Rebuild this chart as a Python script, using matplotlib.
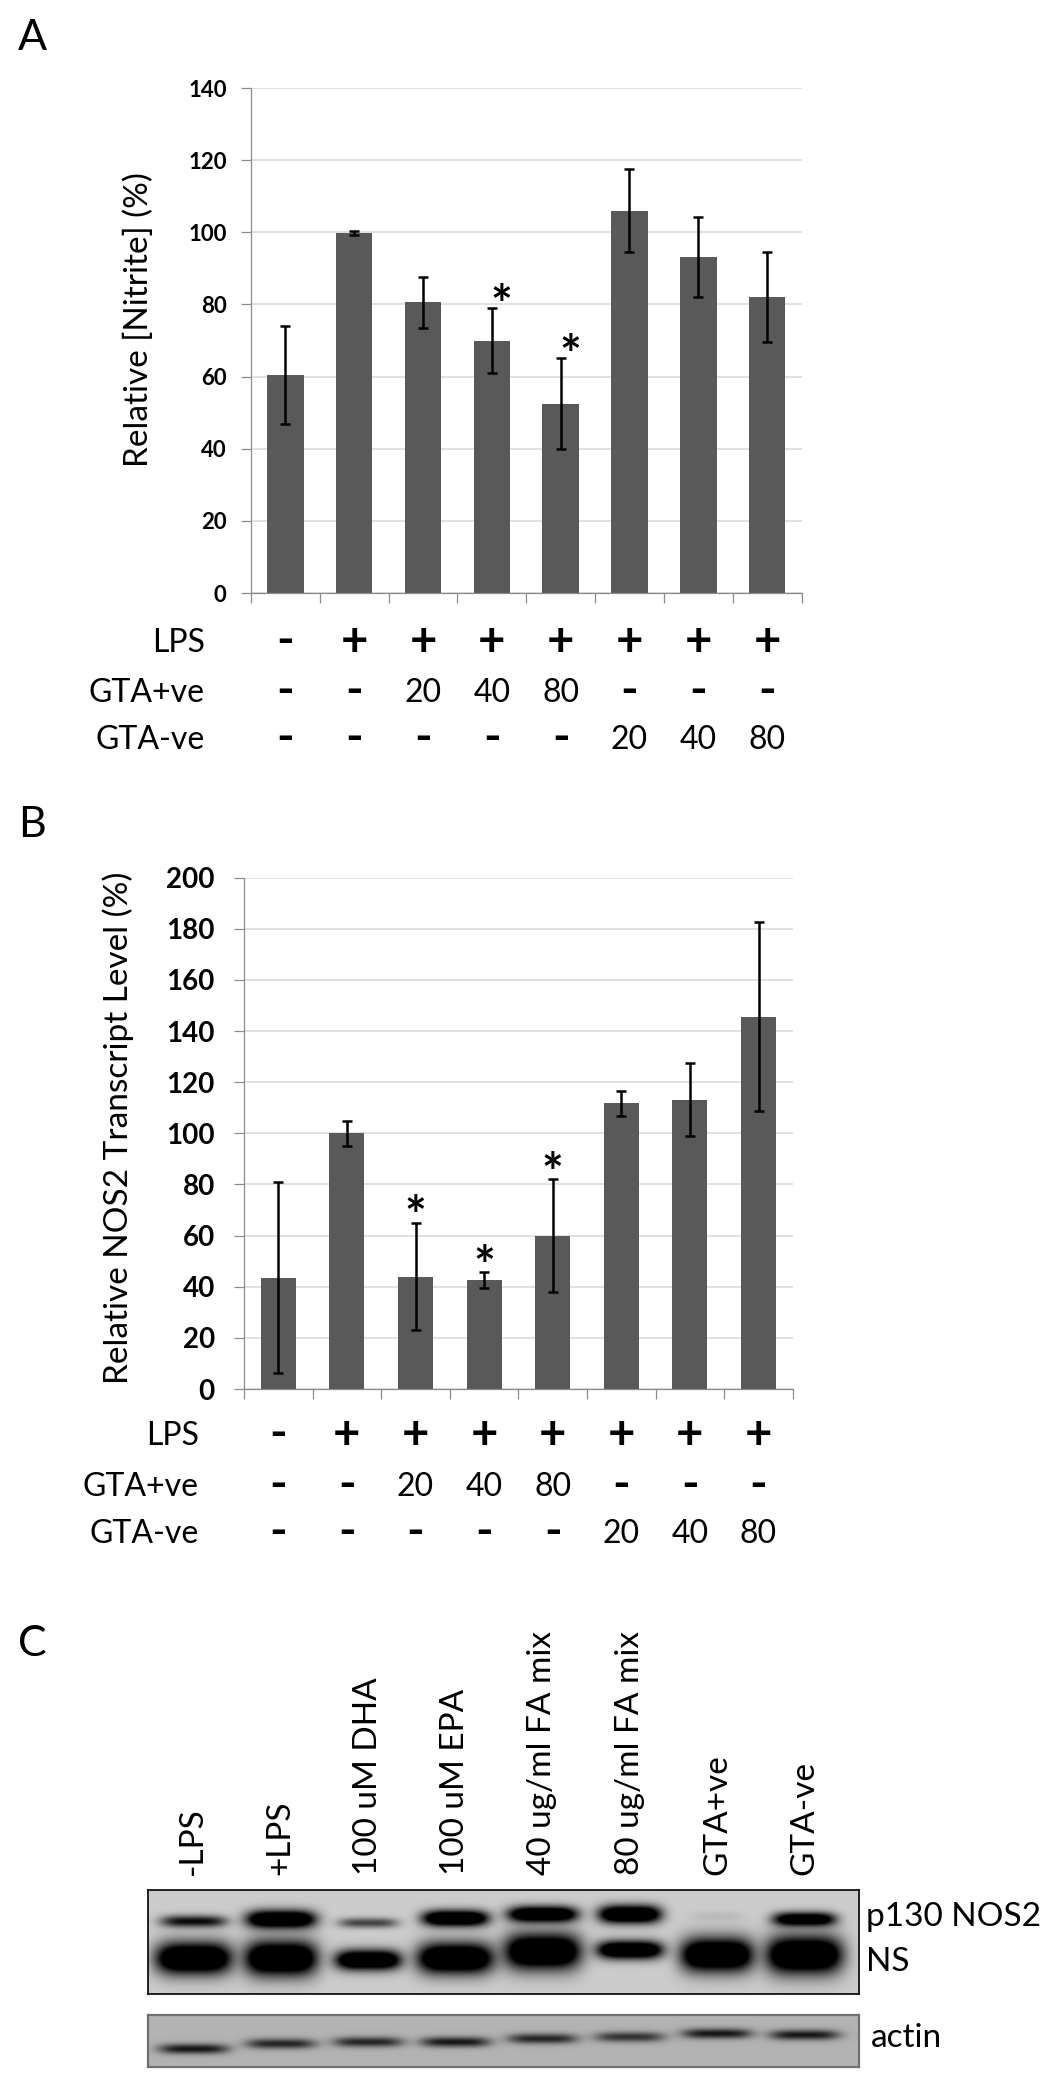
import numpy as np
import matplotlib
matplotlib.use("Agg")
import matplotlib.pyplot as plt
import matplotlib.transforms as mtransforms
from matplotlib.textpath import TextPath
from matplotlib.font_manager import FontProperties

plt.rcParams['font.family'] = ['Lato', 'DejaVu Sans']

FIG_W, FIG_H = 1045, 2086

# --- panel A: relative nitrite (%) ---
nitrite = [60.4, 99.8, 80.6, 70.0, 52.5, 106.0, 93.1, 82.0]
nitrite_err = [13.6, 0.5, 7.0, 9.1, 12.7, 11.6, 11.0, 12.4]
nitrite_sig = [False, False, False, True, True, False, False, False]

# --- panel B: relative NOS2 transcript (%) ---
nos2 = [43.6, 100.0, 44.0, 42.6, 60.0, 111.7, 113.2, 145.6]
nos2_err = [37.5, 4.9, 21.1, 3.1, 22.1, 4.8, 14.4, 36.9]
nos2_sig = [False, False, True, True, True, False, False, False]

# treatment table under the bars
row_names = ['LPS', 'GTA+ve', 'GTA-ve']
lps_row = ['-', '+', '+', '+', '+', '+', '+', '+']
gta_pos_row = ['-', '-', '20', '40', '80', '-', '-', '-']
gta_neg_row = ['-', '-', '-', '-', '-', '20', '40', '80']

# --- panel C: western blot ---
lanes = ['-LPS', '+LPS', '100 uM DHA', '100 uM EPA',
         '40 ug/ml FA mix', '80 ug/ml FA mix', 'GTA+ve', 'GTA-ve']
p130_level = [0.60, 1.00, 0.42, 1.00, 1.00, 1.00, 0.05, 0.90]
ns_level = [1.00, 1.00, 1.00, 1.00, 1.00, 1.00, 1.00, 1.00]
actin_level = [0.55, 0.50, 0.50, 0.55, 0.50, 0.45, 0.55, 0.55]

# band shapes (px from blot top, half heights px, half widths in lanes)
p130_y = [32, 30, 33.5, 29, 25, 25, 27, 30]
p130_hh = [6, 9, 5, 8, 8, 9, 5, 7]
p130_hw = [0.38, 0.40, 0.34, 0.38, 0.40, 0.36, 0.30, 0.36]
ns_y = [68.8, 68.8, 70.5, 68.8, 62, 60.4, 65.4, 65.4]
ns_hh = [16, 17.5, 10, 15.5, 18, 9, 17, 19]
ns_hw = [0.44, 0.42, 0.38, 0.44, 0.44, 0.38, 0.42, 0.44]
actin_y = [35.3, 30.2, 28.5, 28.5, 25.2, 23.5, 20.2, 21.5]


def fx(p):
    return p / FIG_W


def fy(p):
    return 1 - p / FIG_H


fig = plt.figure(figsize=(FIG_W / 100, FIG_H / 100), dpi=100)


def ink_text(ax, trans, x, y, s, lift_px, fontsize=None, height_px=None,
             dx_px=0, weight='bold'):
    """glyph whose ink centre sits lift_px above y (size given directly or by ink height)"""
    fp = FontProperties(family=['Lato'], weight=weight, size=10)
    ext = TextPath((0, 0), s, prop=fp).get_extents()
    size = fontsize if fontsize else height_px * 0.72 * 10 / ext.height
    cy = (ext.y0 + ext.y1) / 2 * size / 10
    tr = trans + mtransforms.ScaledTranslation(
        dx_px / 100, (lift_px * 0.72 - cy) / 72, fig.dpi_scale_trans)
    ax.text(x, y, s, transform=tr, ha='center', va='baseline',
            fontsize=size, fontweight=weight)


def bar_panel(rect, vals, errs, sig, ymax, step, width, tick_size, tick_pad,
              star_dx, star_lift):
    ax = fig.add_axes(rect)
    x = np.arange(len(vals)) + 0.5
    ax.bar(x, vals, width=width, color='#595959', zorder=2)
    ax.errorbar(x, vals, yerr=errs, fmt='none', ecolor='black',
                elinewidth=1.8, capsize=3.6, capthick=1.8, zorder=3)
    ax.set_xlim(0, len(vals))
    ax.set_ylim(0, ymax)
    ax.set_yticks(np.arange(0, ymax + 1, step))
    ax.set_xticks(np.arange(0, len(vals) + 1))
    ax.set_xticklabels([])
    ax.yaxis.grid(True, color='#d9d9d9', lw=1.1)
    ax.set_axisbelow(True)
    for s in ['top', 'right']:
        ax.spines[s].set_visible(False)
    for s in ['left', 'bottom']:
        ax.spines[s].set_color('#8c8c8c')
        ax.spines[s].set_linewidth(0.9)
    ax.tick_params(axis='both', direction='out', color='#8c8c8c',
                   length=7, width=0.9)
    ax.tick_params(axis='y', labelsize=tick_size, pad=tick_pad)
    for lab in ax.get_yticklabels():
        lab.set_fontweight('bold')
    for xi, v, e, s in zip(x, vals, errs, sig):
        if s:
            ink_text(ax, ax.transData, xi, v + e, '*', star_lift,
                     height_px=17.5, dx_px=star_dx, weight='bold')
    return ax


def treatment_rows(ax, label_right, baselines):
    trans = mtransforms.blended_transform_factory(ax.transData, fig.transFigure)
    x = np.arange(len(lps_row)) + 0.5
    for name, row, base in zip(row_names, [lps_row, gta_pos_row, gta_neg_row],
                               baselines):
        fig.text(fx(label_right), fy(base), name, ha='right', va='baseline',
                 fontsize=23)
        for xi, t in zip(x, row):
            if t == '+':
                ink_text(ax, trans, xi, fy(base), t, 12, fontsize=34)
            elif t == '-':
                ink_text(ax, trans, xi, fy(base), t, 11.5, fontsize=34)
            else:
                ax.text(xi, fy(base), t, transform=trans, ha='center',
                        va='baseline', fontsize=23)


# panel A
ax_a = bar_panel([fx(251), fy(593), fx(801.5 - 251), (593 - 88) / FIG_H],
                 nitrite, nitrite_err, nitrite_sig, 140, 20, 0.53, 16, 10.5,
                 9.5, 15)
treatment_rows(ax_a, 205, [652.4, 701.8, 749.2])
fig.text(fx(139), fy(320), 'Relative [Nitrite] (%)', rotation=90,
         ha='center', va='center', fontsize=24)
fig.text(fx(18), fy(50), 'A', fontsize=31, va='baseline')

# panel B
ax_b = bar_panel([fx(244), fy(1389), fx(792.8 - 244), (1389 - 877.7) / FIG_H],
                 nos2, nos2_err, nos2_sig, 200, 20, 0.51, 20, 14,
                 0, 18.5)
treatment_rows(ax_b, 199, [1445, 1496, 1543.3])
fig.text(fx(118.5), fy(1128), 'Relative NOS2 Transcript Level (%)',
         rotation=90, ha='center', va='center', fontsize=24)
fig.text(fx(18), fy(837), 'B', fontsize=31, va='baseline')

# panel C
fig.text(fx(18.5), fy(1655.6), 'C', fontsize=31, va='baseline')
LANE_LIM = (-0.52, 7.62)


def blot(rect, height, bg, bands, edge, edge_w):
    ax = fig.add_axes(rect)
    nx = int(round(rect[2] * FIG_W))
    xs = np.linspace(LANE_LIM[0], LANE_LIM[1], nx)
    ys = np.linspace(0, height, int(height) * 2)
    dark = np.zeros((len(ys), len(xs)))
    for lane, y0, hh, hw, level in bands:
        shape = np.outer(np.exp(-((ys - y0) / hh) ** 2),
                         np.exp(-((xs - lane) / hw) ** 4))
        d = np.clip(level * shape * 1.6, 0, 1)
        dark = 1 - (1 - dark) * (1 - d)
    img = bg * (1 - dark)
    ax.imshow(img, cmap='gray', vmin=0, vmax=1, aspect='auto',
              extent=(LANE_LIM[0], LANE_LIM[1], height, 0),
              interpolation='bilinear')
    ax.set_xlim(*LANE_LIM)
    ax.set_ylim(height, 0)
    ax.set_xticks([])
    ax.set_yticks([])
    for s in ax.spines.values():
        s.set_color(edge)
        s.set_linewidth(edge_w)
    return ax


top_bands = []
for i in range(len(lanes)):
    top_bands.append((i, p130_y[i], p130_hh[i], p130_hw[i], p130_level[i]))
    top_bands.append((i, ns_y[i], ns_hh[i], ns_hw[i], ns_level[i]))
ax_c = blot([fx(147.6), fy(1994.4), fx(858.5 - 147.6), 104 / FIG_H], 104,
            0.80, top_bands, 'black', 1.2)

actin_bands = [(i, actin_y[i], 5.0, 0.40, actin_level[i])
               for i in range(len(lanes))]
blot([fx(147.6), fy(2066.5), fx(858.5 - 147.6), 52 / FIG_H], 52,
     0.70, actin_bands, '#707070', 1.6)

trans_c = mtransforms.blended_transform_factory(ax_c.transData, fig.transFigure)
for i, name in enumerate(lanes):
    ax_c.text(i, fy(1875.3), name, transform=trans_c, rotation=90,
              ha='center', va='bottom', fontsize=24)

fig.text(fx(866), fy(1925.6), 'p130 NOS2', fontsize=24, va='baseline')
fig.text(fx(866), fy(1970.9), 'NS', fontsize=24, va='baseline')
fig.text(fx(871), fy(2047), 'actin', fontsize=24, va='baseline')

fig.savefig('out.png', dpi=100)
